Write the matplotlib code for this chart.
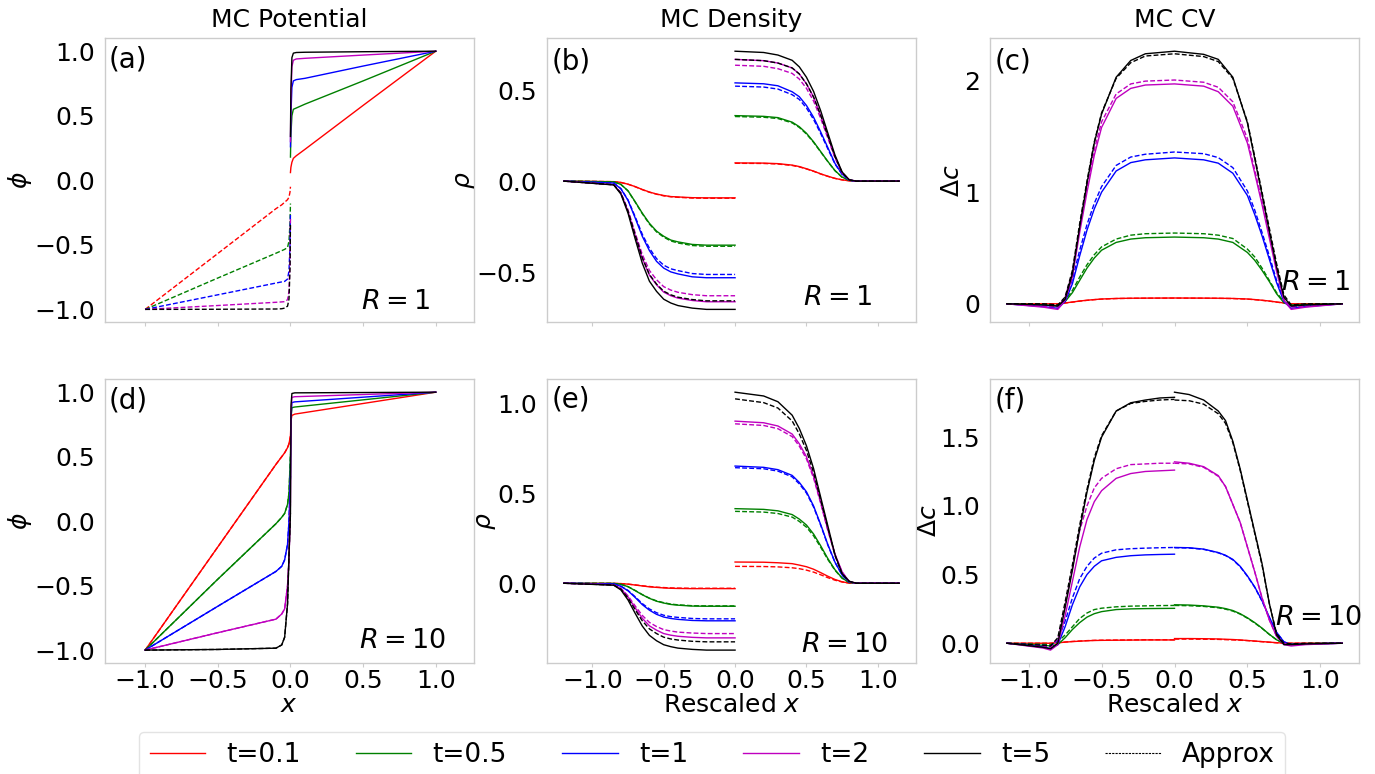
import matplotlib
matplotlib.use("Agg")
import matplotlib.pyplot as plt
from matplotlib.lines import Line2D

# ---------------- series meta ----------------
colors = ["r", "g", "b", "m", "k"]
t_labels = ["t=0.1", "t=0.5", "t=1", "t=2", "t=5"]
approx_label = "Approx"
col_titles = ["MC Potential", "MC Density", "MC CV"]
panel_tags = ["(a)", "(b)", "(c)", "(d)", "(e)", "(f)"]
r_labels = ["$R=1$", "$R=1$", "$R=1$", "$R=10$", "$R=10$", "$R=10$"]
ylabels = [r"$\phi$", r"$\rho$", r"$\Delta c$"]
xlabels = ["$x$", "Rescaled $x$", "Rescaled $x$"]
xticks = [-1.0, -0.5, 0.0, 0.5, 1.0]

# ---------------- (a) potential, R=1 ----------------
pot_r1_xL = [-1.0, -0.5, -0.1, -0.06, -0.04, -0.02, -0.01, -0.003, 0.0]
pot_r1_left_approx = [
    [-1.0, -0.567, -0.22, -0.19, -0.17, -0.15, -0.13, -0.09, -0.05],
    [-1.0, -0.757, -0.565, -0.545, -0.535, -0.52, -0.47, -0.33, -0.18],
    [-1.0, -0.887, -0.796, -0.787, -0.783, -0.765, -0.70, -0.50, -0.25],
    [-1.0, -0.970, -0.945, -0.942, -0.940, -0.925, -0.86, -0.62, -0.30],
    [-1.0, -0.999, -0.997, -0.995, -0.990, -0.975, -0.92, -0.68, -0.33],
]
pot_r1_xR = [0.0, 0.003, 0.01, 0.02, 0.04, 0.1, 0.5, 1.0]
pot_r1_right_mc = [
    [0.06, 0.10, 0.14, 0.17, 0.19, 0.24, 0.58, 1.0],
    [0.18, 0.35, 0.50, 0.55, 0.56, 0.59, 0.77, 1.0],
    [0.26, 0.50, 0.72, 0.77, 0.78, 0.79, 0.885, 1.0],
    [0.30, 0.62, 0.88, 0.93, 0.94, 0.945, 0.97, 1.0],
    [0.34, 0.70, 0.95, 0.985, 0.99, 0.992, 0.996, 1.0],
]

# ---------------- (d) potential, R=10 ----------------
pot_r10_x = [-1.0, -0.5, -0.1, -0.06, -0.04, -0.02, -0.01, 0.0, 0.004, 0.01, 0.03, 1.0]
pot_r10_mc = [
    [-1.0, -0.20, 0.44, 0.50, 0.53, 0.57, 0.60, 0.66, 0.78, 0.82, 0.83, 1.0],
    [-1.0, -0.45, -0.02, 0.03, 0.06, 0.13, 0.22, 0.52, 0.80, 0.88, 0.885, 1.0],
    [-1.0, -0.66, -0.39, -0.35, -0.30, -0.18, 0.0, 0.35, 0.80, 0.92, 0.925, 1.0],
    [-1.0, -0.865, -0.76, -0.72, -0.68, -0.50, -0.30, 0.15, 0.85, 0.96, 0.965, 1.0],
    [-1.0, -0.995, -0.985, -0.96, -0.90, -0.64, -0.26, 0.06, 0.90, 0.99, 0.995, 1.0],
]

# ---------------- (b) density, R=1 ----------------
den_r1_xL = [-1.2, -0.85, -0.8, -0.75, -0.7, -0.65, -0.6, -0.55, -0.5, -0.45, -0.4, -0.3, -0.2, 0.0]
den_r1_left_mc = [
    [0, -0.003, -0.007, -0.017, -0.030, -0.046, -0.060, -0.071, -0.079, -0.085, -0.087, -0.091, -0.092, -0.092],
    [0, -0.004, -0.018, -0.053, -0.113, -0.176, -0.232, -0.275, -0.303, -0.324, -0.334, -0.348, -0.352, -0.352],
    [0, -0.011, -0.042, -0.106, -0.202, -0.303, -0.382, -0.441, -0.478, -0.499, -0.510, -0.526, -0.531, -0.531],
    [0, -0.020, -0.066, -0.166, -0.298, -0.424, -0.517, -0.570, -0.610, -0.630, -0.643, -0.656, -0.663, -0.663],
    [0, -0.021, -0.071, -0.176, -0.317, -0.451, -0.550, -0.606, -0.649, -0.670, -0.684, -0.698, -0.705, -0.705],
]
den_r1_left_approx = [
    [0, -0.003, -0.008, -0.017, -0.031, -0.047, -0.061, -0.072, -0.081, -0.086, -0.089, -0.093, -0.094, -0.094],
    [0, -0.004, -0.018, -0.054, -0.115, -0.179, -0.236, -0.279, -0.308, -0.329, -0.340, -0.354, -0.358, -0.358],
    [0, -0.010, -0.041, -0.103, -0.195, -0.292, -0.369, -0.426, -0.462, -0.482, -0.492, -0.508, -0.513, -0.513],
    [0, -0.019, -0.063, -0.158, -0.284, -0.403, -0.491, -0.542, -0.580, -0.599, -0.611, -0.624, -0.630, -0.630],
    [0, -0.020, -0.066, -0.165, -0.296, -0.421, -0.513, -0.566, -0.605, -0.625, -0.638, -0.651, -0.658, -0.658],
]
den_r1_xR = [0.0, 0.2, 0.3, 0.4, 0.45, 0.5, 0.55, 0.6, 0.65, 0.7, 0.75, 0.8, 0.85, 1.15]
den_r1_right_mc = [
    [0.100, 0.099, 0.096, 0.088, 0.080, 0.068, 0.055, 0.040, 0.027, 0.015, 0.007, 0.002, 0, 0],
    [0.360, 0.356, 0.349, 0.324, 0.299, 0.263, 0.216, 0.162, 0.108, 0.058, 0.022, 0.004, 0, 0],
    [0.540, 0.535, 0.524, 0.491, 0.464, 0.416, 0.351, 0.270, 0.184, 0.097, 0.038, 0.005, 0, 0],
    [0.669, 0.662, 0.649, 0.622, 0.589, 0.535, 0.462, 0.361, 0.248, 0.134, 0.047, 0.007, 0, 0],
    [0.714, 0.707, 0.693, 0.664, 0.628, 0.571, 0.493, 0.386, 0.264, 0.143, 0.050, 0.007, 0, 0],
]
den_r1_right_approx = [
    [0.098, 0.097, 0.094, 0.086, 0.078, 0.067, 0.054, 0.039, 0.026, 0.015, 0.007, 0.002, 0, 0],
    [0.355, 0.351, 0.344, 0.320, 0.295, 0.259, 0.213, 0.160, 0.107, 0.057, 0.021, 0.004, 0, 0],
    [0.522, 0.517, 0.506, 0.475, 0.449, 0.402, 0.339, 0.261, 0.177, 0.094, 0.037, 0.005, 0, 0],
    [0.637, 0.631, 0.618, 0.592, 0.561, 0.510, 0.440, 0.344, 0.236, 0.127, 0.045, 0.006, 0, 0],
    [0.669, 0.662, 0.649, 0.622, 0.589, 0.535, 0.462, 0.361, 0.248, 0.134, 0.047, 0.007, 0, 0],
]

# ---------------- (e) density, R=10 ----------------
den_r10_xL = [-1.2, -0.85, -0.8, -0.75, -0.7, -0.65, -0.6, -0.55, -0.5, -0.45, -0.4, -0.3, -0.2, 0.0]
den_r10_left_mc = [
    [0, -0.001, -0.002, -0.005, -0.010, -0.015, -0.020, -0.023, -0.026, -0.028, -0.029, -0.030, -0.030, -0.030],
    [0, -0.001, -0.006, -0.019, -0.041, -0.064, -0.084, -0.100, -0.110, -0.118, -0.122, -0.127, -0.128, -0.128],
    [0, -0.004, -0.017, -0.042, -0.079, -0.119, -0.150, -0.173, -0.188, -0.196, -0.201, -0.207, -0.209, -0.209],
    [0, -0.009, -0.030, -0.076, -0.137, -0.195, -0.237, -0.261, -0.280, -0.289, -0.295, -0.301, -0.304, -0.304],
    [0, -0.011, -0.037, -0.093, -0.167, -0.238, -0.290, -0.320, -0.342, -0.353, -0.361, -0.368, -0.372, -0.372],
]
den_r10_left_approx = [
    [0, -0.001, -0.002, -0.005, -0.009, -0.014, -0.018, -0.022, -0.024, -0.026, -0.027, -0.028, -0.028, -0.028],
    [0, -0.001, -0.006, -0.019, -0.040, -0.063, -0.083, -0.098, -0.108, -0.116, -0.120, -0.125, -0.126, -0.126],
    [0, -0.004, -0.016, -0.040, -0.075, -0.113, -0.143, -0.164, -0.178, -0.186, -0.190, -0.196, -0.198, -0.198],
    [0, -0.008, -0.028, -0.070, -0.126, -0.179, -0.218, -0.241, -0.258, -0.266, -0.272, -0.277, -0.280, -0.280],
    [0, -0.010, -0.033, -0.082, -0.147, -0.209, -0.254, -0.280, -0.300, -0.310, -0.316, -0.323, -0.326, -0.326],
]
den_r10_xR = [0.0, 0.2, 0.3, 0.4, 0.45, 0.5, 0.55, 0.6, 0.65, 0.7, 0.75, 0.8, 0.85, 1.15]
den_r10_right_mc = [
    [0.118, 0.117, 0.114, 0.109, 0.101, 0.092, 0.078, 0.059, 0.039, 0.021, 0.008, 0.001, 0, 0],
    [0.415, 0.411, 0.403, 0.382, 0.357, 0.324, 0.274, 0.208, 0.137, 0.075, 0.029, 0.004, 0, 0],
    [0.652, 0.645, 0.632, 0.600, 0.561, 0.509, 0.430, 0.326, 0.215, 0.117, 0.046, 0.007, 0, 0],
    [0.902, 0.893, 0.875, 0.830, 0.776, 0.704, 0.595, 0.451, 0.298, 0.162, 0.063, 0.009, 0, 0],
    [1.063, 1.042, 1.010, 0.935, 0.861, 0.765, 0.638, 0.478, 0.319, 0.159, 0.053, 0.011, 0, 0],
]
den_r10_right_approx = [
    [0.094, 0.093, 0.091, 0.086, 0.081, 0.073, 0.062, 0.047, 0.031, 0.017, 0.007, 0.001, 0, 0],
    [0.400, 0.396, 0.388, 0.368, 0.344, 0.312, 0.264, 0.200, 0.132, 0.072, 0.028, 0.004, 0, 0],
    [0.643, 0.637, 0.624, 0.592, 0.553, 0.502, 0.424, 0.322, 0.212, 0.116, 0.045, 0.006, 0, 0],
    [0.887, 0.878, 0.860, 0.816, 0.763, 0.692, 0.585, 0.444, 0.293, 0.160, 0.062, 0.009, 0, 0],
    [1.026, 1.005, 0.975, 0.903, 0.831, 0.739, 0.616, 0.462, 0.308, 0.154, 0.051, 0.010, 0, 0],
]

# ---------------- (c) CV, R=1 ----------------
cv_r1_x = [-1.15, -0.9, -0.8, -0.75, -0.7, -0.65, -0.6, -0.55, -0.5, -0.4, -0.3, -0.2, 0.0,
           0.2, 0.3, 0.4, 0.5, 0.55, 0.6, 0.65, 0.7, 0.75, 0.8, 0.9, 1.15]
cv_r1_mc = [
    [0, 0, 0.0, 0.008, 0.016, 0.025, 0.032, 0.038, 0.043, 0.048, 0.050, 0.051, 0.052,
     0.051, 0.050, 0.048, 0.043, 0.038, 0.032, 0.025, 0.016, 0.008, 0.0, 0, 0],
    [0, -0.01, -0.02, 0.02, 0.10, 0.21, 0.32, 0.41, 0.48, 0.55, 0.58, 0.592, 0.598,
     0.592, 0.58, 0.55, 0.46, 0.39, 0.30, 0.20, 0.09, 0.01, -0.02, -0.01, 0],
    [0, -0.025, -0.04, 0.02, 0.18, 0.43, 0.66, 0.85, 1.00, 1.19, 1.265, 1.29, 1.307,
     1.29, 1.26, 1.17, 0.97, 0.80, 0.61, 0.40, 0.19, 0.02, -0.04, -0.025, 0],
    [0, -0.03, -0.05, 0.03, 0.24, 0.64, 1.00, 1.33, 1.58, 1.84, 1.93, 1.96, 1.97,
     1.95, 1.90, 1.77, 1.44, 1.17, 0.89, 0.59, 0.29, 0.03, -0.05, -0.03, 0],
    [0, -0.01, -0.02, 0.04, 0.27, 0.69, 1.08, 1.44, 1.70, 2.03, 2.18, 2.24, 2.263,
     2.235, 2.19, 2.03, 1.62, 1.30, 0.98, 0.65, 0.33, 0.06, -0.02, -0.01, 0],
]
cv_r1_approx = [
    [0, 0, 0.0, 0.007, 0.015, 0.024, 0.031, 0.037, 0.042, 0.047, 0.049, 0.050, 0.051,
     0.050, 0.049, 0.047, 0.042, 0.037, 0.031, 0.024, 0.015, 0.007, 0.0, 0, 0],
    [0, -0.005, -0.01, 0.03, 0.12, 0.24, 0.35, 0.44, 0.51, 0.58, 0.615, 0.628, 0.634,
     0.628, 0.615, 0.585, 0.49, 0.42, 0.32, 0.21, 0.10, 0.02, -0.01, -0.005, 0],
    [0, -0.015, -0.025, 0.04, 0.22, 0.48, 0.71, 0.90, 1.05, 1.24, 1.315, 1.34, 1.36,
     1.345, 1.31, 1.22, 1.01, 0.84, 0.64, 0.43, 0.21, 0.04, -0.025, -0.015, 0],
    [0, -0.02, -0.03, 0.06, 0.28, 0.68, 1.05, 1.38, 1.63, 1.88, 1.97, 1.995, 2.005,
     1.985, 1.94, 1.81, 1.48, 1.20, 0.92, 0.62, 0.32, 0.05, -0.03, -0.02, 0],
    [0, 0.0, -0.01, 0.06, 0.30, 0.72, 1.10, 1.45, 1.71, 2.02, 2.16, 2.22, 2.24,
     2.215, 2.17, 2.02, 1.63, 1.32, 1.00, 0.68, 0.36, 0.08, -0.01, 0, 0],
]

# ---------------- (f) CV, R=10 ----------------
cv_r10_xL = [-1.15, -0.9, -0.85, -0.8, -0.75, -0.7, -0.65, -0.6, -0.55, -0.5, -0.4, -0.3, -0.2, -0.1, 0.0]
cv_r10_left_mc = [
    [0, 0, 0, 0.003, 0.008, 0.012, 0.015, 0.018, 0.020, 0.021, 0.022, 0.023, 0.024, 0.024, 0.024],
    [0, -0.015, -0.02, -0.01, 0.04, 0.10, 0.15, 0.19, 0.215, 0.23, 0.245, 0.25, 0.252, 0.253, 0.254],
    [0, -0.025, -0.04, -0.01, 0.12, 0.28, 0.41, 0.50, 0.56, 0.60, 0.625, 0.637, 0.643, 0.646, 0.648],
    [0, -0.035, -0.05, -0.01, 0.20, 0.45, 0.70, 0.90, 1.03, 1.11, 1.20, 1.235, 1.25, 1.255, 1.26],
    [0, -0.03, -0.04, 0.0, 0.26, 0.53, 0.83, 1.10, 1.33, 1.50, 1.69, 1.75, 1.77, 1.785, 1.79],
]
cv_r10_left_approx = [
    [0, 0, 0, 0.004, 0.009, 0.013, 0.016, 0.019, 0.021, 0.022, 0.023, 0.024, 0.025, 0.025, 0.025],
    [0, -0.008, -0.01, 0.01, 0.06, 0.12, 0.18, 0.22, 0.245, 0.255, 0.265, 0.27, 0.272, 0.274, 0.275],
    [0, -0.015, -0.02, 0.02, 0.16, 0.33, 0.47, 0.56, 0.62, 0.655, 0.68, 0.688, 0.692, 0.695, 0.697],
    [0, -0.02, -0.03, 0.03, 0.27, 0.55, 0.82, 1.00, 1.13, 1.20, 1.27, 1.30, 1.305, 1.31, 1.31],
    [0, -0.015, -0.02, 0.04, 0.30, 0.57, 0.86, 1.12, 1.35, 1.51, 1.69, 1.745, 1.76, 1.77, 1.775],
]
cv_r10_xR = [0.0, 0.1, 0.2, 0.3, 0.35, 0.4, 0.45, 0.5, 0.55, 0.6, 0.65, 0.7, 0.75, 0.8, 0.9, 1.15]
cv_r10_right_mc = [
    [0.034, 0.034, 0.033, 0.031, 0.029, 0.027, 0.024, 0.020, 0.016, 0.012, 0.008, 0.004, 0.001, 0, 0, 0],
    [0.28, 0.278, 0.272, 0.262, 0.252, 0.238, 0.215, 0.185, 0.15, 0.11, 0.065, 0.025, 0.0, -0.005, -0.003, 0],
    [0.697, 0.695, 0.685, 0.66, 0.64, 0.61, 0.56, 0.49, 0.41, 0.31, 0.19, 0.08, 0.01, -0.01, -0.005, 0],
    [1.32, 1.31, 1.285, 1.22, 1.14, 1.01, 0.88, 0.70, 0.52, 0.33, 0.17, 0.05, -0.01, -0.02, -0.01, 0],
    [1.827, 1.81, 1.77, 1.69, 1.62, 1.47, 1.27, 1.04, 0.81, 0.58, 0.29, 0.06, -0.01, -0.01, -0.005, 0],
]
cv_r10_right_approx = [
    [0.030, 0.030, 0.029, 0.028, 0.026, 0.024, 0.022, 0.019, 0.015, 0.011, 0.007, 0.003, 0.0, 0, 0, 0],
    [0.275, 0.273, 0.268, 0.258, 0.248, 0.234, 0.212, 0.182, 0.147, 0.108, 0.064, 0.025, 0.0, -0.005, -0.003, 0],
    [0.695, 0.693, 0.683, 0.658, 0.638, 0.607, 0.557, 0.487, 0.407, 0.307, 0.187, 0.078, 0.01, -0.008, -0.004, 0],
    [1.31, 1.305, 1.28, 1.215, 1.14, 1.01, 0.88, 0.70, 0.52, 0.33, 0.17, 0.05, 0.0, -0.01, -0.005, 0],
    [1.77, 1.765, 1.74, 1.67, 1.60, 1.46, 1.26, 1.03, 0.80, 0.57, 0.29, 0.07, 0.0, -0.005, 0, 0],
]

# ---------------- figure ----------------
plt.rcParams["font.family"] = ["DejaVu Sans"]
plt.rcParams["mathtext.fontset"] = "dejavusans"

W, H = 1375, 774
fig = plt.figure(figsize=(W / 100, H / 100), dpi=100)

col_left = [104.5, 547.0, 990.0]
col_w = 369.0
row_top = [38.3, 379.3]
row_h = [284.0, 283.7]

axes = []
for r in range(2):
    for c in range(3):
        ax = fig.add_axes([col_left[c] / W, 1 - (row_top[r] + row_h[r]) / H, col_w / W, row_h[r] / H])
        axes.append(ax)

LW = 1.0
LWD = 1.0
DASH = (0, (3.5, 1.6))

# (a)
ax = axes[0]
for i, c in enumerate(colors):
    ax.plot(pot_r1_xL, pot_r1_left_approx[i], color=c, lw=LWD, ls=DASH)
    ax.plot(pot_r1_xR, pot_r1_right_mc[i], color=c, lw=LW)

# (d)
ax = axes[3]
for i, c in enumerate(colors):
    ax.plot(pot_r10_x, pot_r10_mc[i], color=c, lw=LW)
    ax.plot(pot_r10_x[:8], pot_r10_mc[i][:8], color=c, lw=LWD, ls=DASH)

# (b), (e)
for ax, xL, lmc, lap, xR, rmc, rap in [
    (axes[1], den_r1_xL, den_r1_left_mc, den_r1_left_approx, den_r1_xR, den_r1_right_mc, den_r1_right_approx),
    (axes[4], den_r10_xL, den_r10_left_mc, den_r10_left_approx, den_r10_xR, den_r10_right_mc, den_r10_right_approx),
]:
    for i, c in enumerate(colors):
        ax.plot(xL, lmc[i], color=c, lw=LW)
        ax.plot(xL, lap[i], color=c, lw=LWD, ls=DASH)
        ax.plot(xR, rmc[i], color=c, lw=LW)
        ax.plot(xR, rap[i], color=c, lw=LWD, ls=DASH)

# (c)
ax = axes[2]
for i, c in enumerate(colors):
    ax.plot(cv_r1_x, cv_r1_mc[i], color=c, lw=LW)
    ax.plot(cv_r1_x, cv_r1_approx[i], color=c, lw=LWD, ls=DASH)

# (f)
ax = axes[5]
for i, c in enumerate(colors):
    ax.plot(cv_r10_xL, cv_r10_left_mc[i], color=c, lw=LW)
    ax.plot(cv_r10_xL, cv_r10_left_approx[i], color=c, lw=LWD, ls=DASH)
    ax.plot(cv_r10_xR, cv_r10_right_mc[i], color=c, lw=LW)
    ax.plot(cv_r10_xR, cv_r10_right_approx[i], color=c, lw=LWD, ls=DASH)

# styling
tag_pos = [(0.01, 0.925), (0.013, 0.92), (0.012, 0.92), (0.01, 0.925), (0.013, 0.93), (0.012, 0.925)]
r_pos = [(0.882, 0.073), (0.88, 0.085), (0.975, 0.137), (0.926, 0.079), (0.924, 0.063), (1.007, 0.158)]
for k, ax in enumerate(axes):
    r, c = divmod(k, 3)
    for sp in ax.spines.values():
        sp.set_color("#cccccc")
        sp.set_linewidth(1.0)
    ax.set_xticks(xticks)
    ax.tick_params(axis="x", length=3, width=0.8, color="#cccccc", pad=1, labelsize=18)
    ax.tick_params(axis="y", length=0, pad=7, labelsize=18)
    if r == 0:
        ax.tick_params(axis="x", labelbottom=False)
        ax.set_title(col_titles[c], fontsize=18, pad=8)
    else:
        ax.set_xlabel(xlabels[c], fontsize=18, labelpad=0)
    ax.set_ylabel(ylabels[c], fontsize=18, labelpad=0)
    ax.text(tag_pos[k][0], tag_pos[k][1], panel_tags[k], transform=ax.transAxes,
            fontsize=20, ha="left", va="center")
    ax.text(r_pos[k][0], r_pos[k][1], r_labels[k], transform=ax.transAxes,
            fontsize=19.5, ha="right", va="center")

for ax in (axes[0], axes[3]):
    ax.set_xlim(-1.28, 1.26)
    ax.set_yticks([-1.0, -0.5, 0.0, 0.5, 1.0])
axes[1].set_yticks([-0.5, 0.0, 0.5])
axes[4].set_yticks([0.0, 0.5, 1.0])
axes[2].set_yticks([0, 1, 2])
axes[5].set_yticks([0.0, 0.5, 1.0, 1.5])

handles = [Line2D([], [], color=c, lw=1.0) for c in colors]
handles.append(Line2D([], [], color="k", lw=0.8, ls=(0, (2, 1))))
labels = t_labels + [approx_label]
leg = fig.legend(handles, labels, loc="upper center", bbox_to_anchor=(0.518, 0.0546),
                 ncol=6, fontsize=19, handlelength=2.1, handletextpad=0.8,
                 columnspacing=2.1, frameon=True, fancybox=True, borderaxespad=0.0)
leg.get_frame().set_edgecolor("#dddddd")

fig.savefig("out.png", dpi=100)
